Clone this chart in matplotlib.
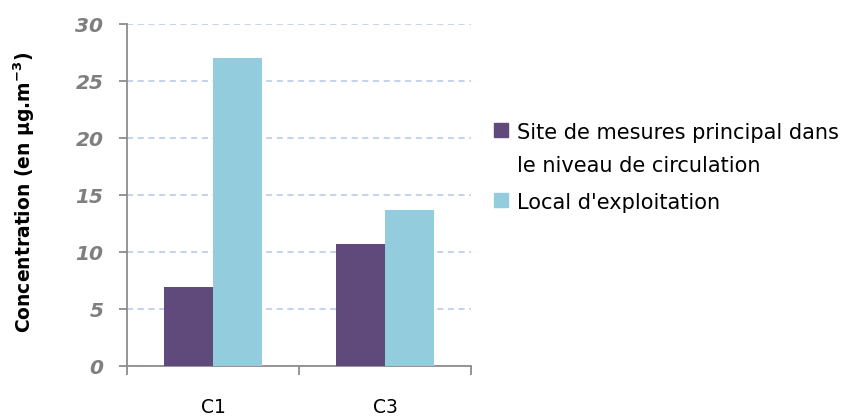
import matplotlib.pyplot as plt
from matplotlib.patches import Rectangle
import numpy as np

categories = ["C1", "C3"]
series_names = ["Site de mesures principal dans\nle niveau de circulation", "Local d'exploitation"]
site_principal = [6.9, 10.7]
local_exploitation = [27.0, 13.7]
y_ticks = [0, 5, 10, 15, 20, 25, 30]

colors = ["#604a7b", "#93cddd"]
W, H = 850, 419

plt.rcParams["font.family"] = "DejaVu Sans"
fig = plt.figure(figsize=(W / 100, H / 100), dpi=100)
ax = fig.add_axes([127 / W, 1 - 366 / H, 344 / W, 342 / H])

x = np.arange(len(categories))
w = 0.285
ax.bar(x - w / 2, site_principal, w, color=colors[0], zorder=3)
ax.bar(x + w / 2, local_exploitation, w, color=colors[1], zorder=3)

ax.set_xlim(-0.5, 1.5)
ax.set_ylim(0, 30)
ax.set_yticks(y_ticks)
ax.set_yticklabels([str(v) for v in y_ticks], fontsize=14.5, fontweight="bold",
                   fontstyle="italic", color="#7f7f7f")
ax.yaxis.grid(True, linestyle=(0, (4, 3)), color="#b4c6e7", linewidth=1.1, zorder=0)
ax.set_axisbelow(True)

# category labels sit between boundary ticks
ax.set_xticks([-0.5, 0.5, 1.5])
ax.set_xticklabels([])
ax.set_xticks(x, minor=True)
ax.set_xticklabels(categories, minor=True, fontsize=13.5, color="#000000")
ax.tick_params(axis="x", which="minor", length=0, pad=23)
ax.tick_params(axis="x", which="major", length=6.5, color="#8c8c8c", width=1.3)
ax.tick_params(axis="y", length=6, color="#8c8c8c", width=1.3, pad=11)

for s in ["top", "right"]:
    ax.spines[s].set_visible(False)
for s in ["left", "bottom"]:
    ax.spines[s].set_color("#8c8c8c")
    ax.spines[s].set_linewidth(1.3)

fig.text(24 / W, 1 - 192 / H, "Concentration (en µg.m$^{\\mathbf{-3}}$)", rotation=90,
         fontsize=13.5, fontweight="bold", ha="center", va="center")

# legend: square swatch aligned with the first line of each label
legend_baselines = [139, 209]
line_step = 33
for name, color, base in zip(series_names, colors, legend_baselines):
    fig.add_artist(Rectangle((494 / W, 1 - (base - 2) / H), 14 / W, 14 / H,
                             transform=fig.transFigure, color=color))
    for i, line in enumerate(name.split("\n")):
        fig.text(517 / W, 1 - (base + i * line_step) / H, line, fontsize=15,
                 va="baseline", ha="left")

fig.savefig("out.png", dpi=100)
